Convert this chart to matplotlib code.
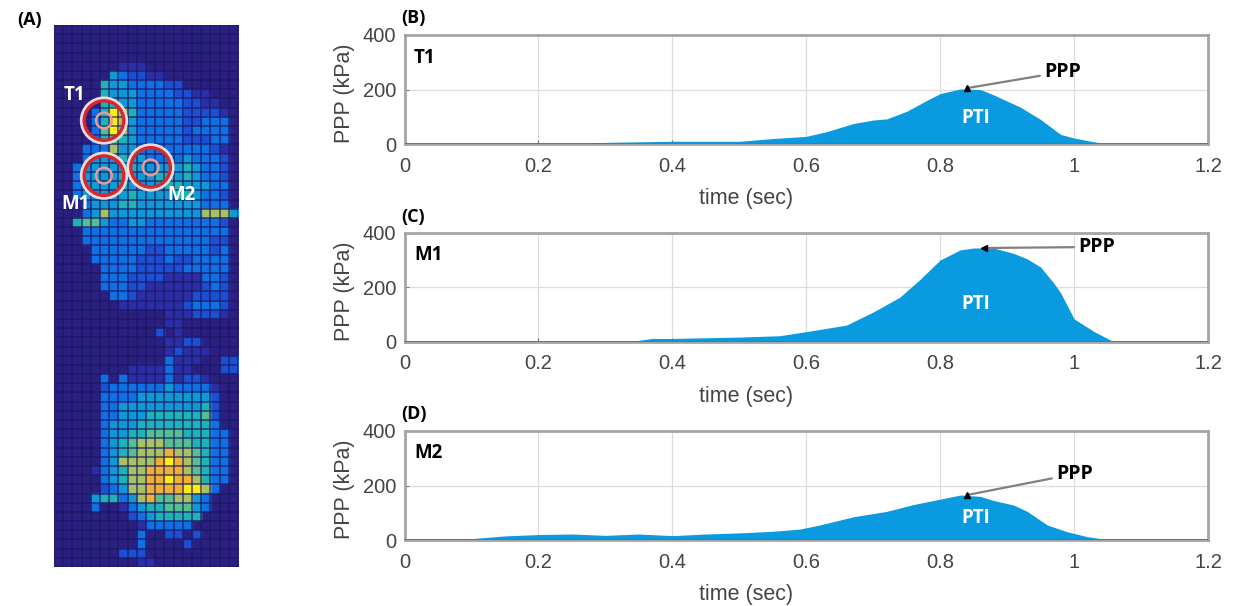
import numpy as np
import matplotlib
matplotlib.use('Agg')
import matplotlib.pyplot as plt
from matplotlib.colors import ListedColormap
from matplotlib.patches import Circle

# Curvas de presion (tiempo en seg, presion en kPa)
t_t1 = [0.2, 0.25, 0.3, 0.4, 0.5, 0.55, 0.6, 0.63, 0.67, 0.7, 0.72, 0.75, 0.78, 0.8, 0.83, 0.86, 0.88, 0.92, 0.95, 0.98, 1.0, 1.03, 1.05]
p_t1 = [0, 2, 6, 10, 10, 20, 28, 45, 75, 88, 92, 120, 160, 185, 202, 200, 180, 135, 90, 35, 22, 8, 0]
t_m1 = [0.3, 0.34, 0.37, 0.4, 0.5, 0.56, 0.6, 0.66, 0.7, 0.74, 0.77, 0.8, 0.83, 0.85, 0.88, 0.91, 0.93, 0.95, 0.97, 0.98, 1.0, 1.03, 1.06]
p_m1 = [0, 3, 13, 13, 18, 23, 38, 62, 110, 165, 230, 301, 338, 345, 345, 325, 305, 275, 215, 180, 85, 38, 0]
t_m2 = [0.07, 0.1, 0.15, 0.2, 0.25, 0.3, 0.35, 0.4, 0.45, 0.5, 0.55, 0.59, 0.62, 0.67, 0.72, 0.76, 0.8, 0.83, 0.86, 0.88, 0.91, 0.93, 0.96, 0.99, 1.02, 1.055]
p_m2 = [0, 5, 15, 20, 22, 17, 22, 16, 22, 26, 32, 40, 55, 85, 105, 130, 150, 165, 160, 145, 128, 105, 55, 30, 12, 0]

x_ticks = [0, 0.2, 0.4, 0.6, 0.8, 1, 1.2]
x_tick_labels = ['0', '0.2', '0.4', '0.6', '0.8', '1', '1.2']
y_ticks = [0, 200, 400]

# Mapa de presion plantar: un digito (nivel 0-9) por celda
heat_rows = [
    "00000000000000000000", "00000000000000000000", "00000000000000000000", "00000000000000000000",
    "00000001110000000000", "00000043221100000000", "00000544333322000000", "00000544433332211000",
    "00000554433333221100", "00003597533333222210", "00003597433333223330", "00003697433333233330",
    "00003565433333222330", "00033374433333333210", "00034445443333433320", "00344444544444543320",
    "00344445444554543320", "00344445444455444330", "00344444544445543320", "00034445544444443330",
    "00034744444444447774", "00566433443333333320", "00033333333333333330", "00033333333333333220",
    "00003333332233333230", "00003333322232233330", "00000333322222333330", "00000333222211113320",
    "00000333221111112320", "00000033211111122220", "00000001111111233320", "00000000000011122210",
    "00000000000011000000", "00000000000201000000", "00000000000011220000", "00000000000012111000",
    "00000000000031110022", "00000000111131100022", "00000303111131221000", "00000233333343333100",
    "00000333344444444200", "00000334444444445200", "00000334445555556200", "00000344455555555300",
    "00000344556666555330", "00000345677766655330", "00000345677787765330", "00000347777898765330",
    "00001345778888765330", "00000345778898875330", "00000234778888997300", "00004553478667743000",
    "00003001345566643000", "00000000234555550000", "00000000013333300000", "00000000030022020000",
    "00000000030000200000", "00000002220000000000", "00000000011000000000",
]
heat_colors = ['#2b2082', '#2c2ea6', '#1c4fd4', '#1070e4', '#1199d6', '#1fb2b6', '#55bf92', '#a6c264', '#f0b035', '#fbee14']

W, H = 1243, 606
BLUE = '#0a9ae0'
GRIS = '#444444'
plt.rcParams['font.family'] = ['Liberation Sans', 'DejaVu Sans']

fig = plt.figure(figsize=(W / 100, H / 100), dpi=100)

def caja(x0, y0, x1, y1):
    # Ejes a partir de pixeles de la imagen (origen arriba a la izquierda)
    return fig.add_axes([x0 / W, 1 - y1 / H, (x1 - x0) / W, (y1 - y0) / H])

def etiqueta(x, y, s, color='black', size=14):
    fig.text(x / W, 1 - y / H, s, color=color, fontsize=size, fontweight='bold',
             family=['Open Sans', 'DejaVu Sans'], ha='left', va='center')

# Panel A
ax_a = caja(54, 25, 238, 567)
heat = np.array([[int(c) for c in fila] for fila in heat_rows])
cmap = ListedColormap(heat_colors)
# Se repite cada celda para que el suavizado solo afecte a los bordes
rgb = cmap(np.repeat(np.repeat(heat, 4, axis=0), 4, axis=1))
ax_a.imshow(rgb, extent=(0, heat.shape[1], heat.shape[0], 0), aspect='auto', interpolation='bilinear')
ax_a.vlines(np.arange(heat.shape[1] + 1), 0, heat.shape[0], color='#1b1860', lw=1.4, alpha=0.6)
ax_a.hlines(np.arange(heat.shape[0] + 1), 0, heat.shape[1], color='#1b1860', lw=1.4, alpha=0.6)
ax_a.set_xlim(0, heat.shape[1])
ax_a.set_ylim(heat.shape[0], 0)
ax_a.axis('off')

# Circulos de las regiones T1, M1 y M2 (en celdas)
for cx, cy in [(5.43, 10.4), (5.43, 16.4), (10.5, 15.5)]:
    ax_a.add_patch(Circle((cx, cy), 2.35, fill=False, ec='#e8dcdc', lw=3.6, zorder=5))
    ax_a.add_patch(Circle((cx, cy), 2.15, fill=False, ec='#d9262c', lw=2.4, zorder=6))
    ax_a.add_patch(Circle((cx, cy), 0.85, fill=False, ec='#e89a9a', lw=1.8, zorder=6))

etiqueta(17, 20, '(A)', size=13)
etiqueta(64, 95, 'T1', 'white', 13.5)
etiqueta(61, 204, 'M1', 'white', 13.5)
etiqueta(167, 195, 'M2', 'white', 13.5)

# Paneles B, C, D
paneles = [
    (35, 144, t_t1, p_t1, '(B)', 18, 'T1', 58, (0.84, 205), (1044, 72), 95, '^'),
    (233, 342, t_m1, p_m1, '(C)', 217, 'M1', 255, (0.865, 345), (1078, 247), 139, '<'),
    (431, 540, t_m2, p_m2, '(D)', 414, 'M2', 453, (0.84, 165), (1056, 474), 80, '^'),
]
for top, bot, t, p, letra, y_letra, nombre, y_nombre, punta, pos_ppp, y_pti, m in paneles:
    ax = caja(404.5, top, 1208, bot)
    ax.fill_between(t, p, 0, color=BLUE, lw=0, zorder=2)
    ax.set_xlim(0, 1.2)
    ax.set_ylim(0, 400)
    ax.set_xticks(x_ticks)
    ax.set_xticklabels(x_tick_labels)
    ax.set_yticks(y_ticks)
    ax.grid(True, color='#dcdcdc', lw=0.9)
    ax.set_axisbelow(True)
    ax.axhline(0, color='#5a6a78', lw=1.2, zorder=3)
    for s in ax.spines.values():
        s.set_color('#a5a5a5')
        s.set_linewidth(2)
    ax.tick_params(axis='both', direction='in', length=3, color='#777777', labelcolor=GRIS, labelsize=14.5)
    ax.tick_params(axis='x', pad=9)
    ax.tick_params(axis='y', pad=6)
    ax.set_ylabel('PPP (kPa)', fontsize=15.5, color=GRIS)
    ax.yaxis.set_label_coords(-0.062, 0.47)
    ax.set_xlabel('time (sec)', fontsize=15.5, color=GRIS)
    ax.xaxis.set_label_coords(0.425, -0.40)
    etiqueta(401, y_letra, letra, size=13)
    etiqueta(414, y_nombre, nombre, size=13.5)
    ax.text(0.853, y_pti, 'PTI', color='white', fontsize=13.5, fontweight='bold',
            family=['Open Sans', 'DejaVu Sans'], ha='center', va='center', zorder=4)
    ax.annotate('PPP', xy=punta, xycoords='data',
                xytext=(pos_ppp[0] / W, 1 - pos_ppp[1] / H), textcoords='figure fraction',
                fontsize=14, fontweight='bold', family=['Open Sans', 'DejaVu Sans'],
                ha='left', va='center', zorder=5,
                arrowprops=dict(arrowstyle='-', color='#808080', lw=1.6, shrinkA=1, shrinkB=0))
    ax.plot(*punta, marker=m, ms=5, color='black', zorder=6)

fig.savefig('out.png', dpi=100, facecolor='white')
